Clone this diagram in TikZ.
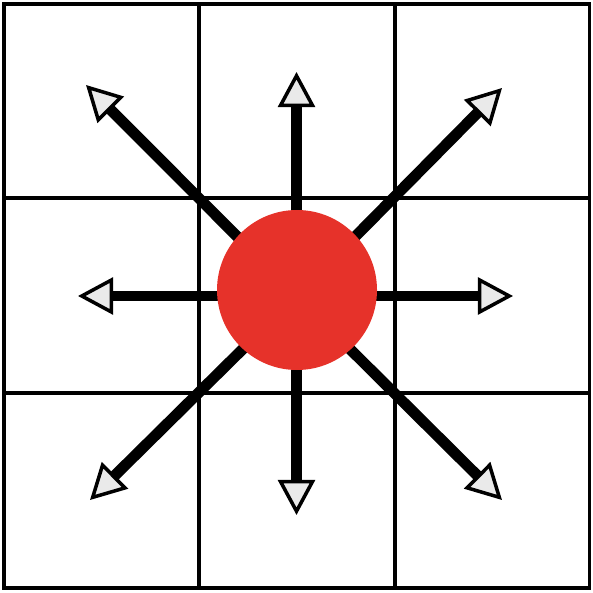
\documentclass[tikz,border=0pt]{standalone}
\usepackage{tikz}
\usetikzlibrary{arrows.meta,positioning,calc}
\definecolor{cellred}{RGB}{230,50,42}
\definecolor{tipgray}{RGB}{234,234,234}
\tikzset{
  gridln/.style={line width=1.1pt, black},
  pushln/.style={-{Triangle[length=10pt,width=10.5pt,fill=tipgray,line width=1pt]}, line width=3.1pt, black},
  cellnode/.style={circle, fill=cellred, minimum size=1.6cm, inner sep=0pt},
}

\begin{document}
\begin{tikzpicture}
    \useasboundingbox (0,0) rectangle (5.93,5.92);
    % grid
    \draw[gridln] (0.04,0.04) rectangle (5.895,5.88);
    \foreach \gx in {1.99,3.95}
      \draw[gridln] (\gx,0.04) -- (\gx,5.88);
    \foreach \gy in {1.99,3.94}
      \draw[gridln] (0.04,\gy) -- (5.895,\gy);
    % arrow ends
    \coordinate (hub) at (2.965,2.96);
    \coordinate (n) at (2.965,5.20);
    \coordinate (s) at (2.965,0.77);
    \coordinate (w) at (0.78,2.96);
    \coordinate (e) at (5.13,2.96);
    \coordinate (nw) at (0.86,5.07);
    \coordinate (ne) at (5.02,5.04);
    \coordinate (sw) at (0.90,0.92);
    \coordinate (se) at (5.02,0.92);
    \foreach \dir in {n,s,w,e,nw,ne,sw,se}
      \draw[pushln] (hub) -- (\dir);
    % cell
    \node[cellnode] (cell) at (2.97,3.02) {};
\end{tikzpicture}
\end{document}
